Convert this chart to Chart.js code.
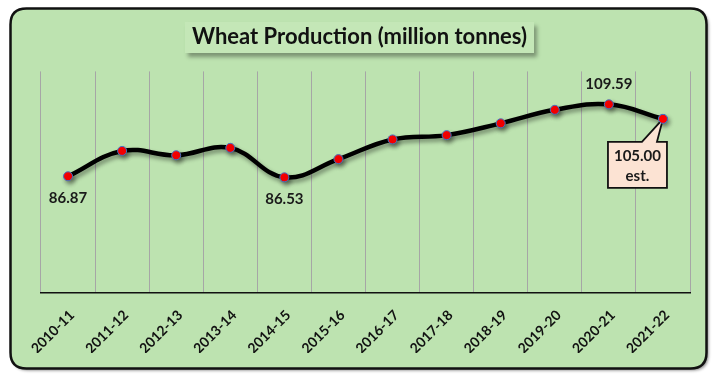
<!DOCTYPE html>
<html>
<head>
<meta charset="utf-8">
<script src="https://cdn.jsdelivr.net/npm/chart.js@4"></script>
<style>
html,body{margin:0;padding:0;background:#fff;}
#wrap{width:720px;height:378px;position:relative;}
</style>
</head>
<body>
<div id="wrap"><canvas id="c" width="720" height="378"></canvas></div>
<script>
const categories = ["2010-11","2011-12","2012-13","2013-14","2014-15","2015-16","2016-17","2017-18","2018-19","2019-20","2020-21","2021-22"];
const production = [86.87, 94.88, 93.51, 95.85, 86.53, 92.29, 98.51, 99.87, 103.60, 107.86, 109.59, 105.00];
const labelledIndexes = [0, 4, 10];
const calloutIndex = 11;
const calloutLines = ["105.00", "est."];
const chartTitle = "Wheat Production (million tonnes)";

const FONT = "Lato, 'Open Sans', sans-serif";

function roundRect(ctx, x, y, w, h, r) {
  ctx.beginPath();
  ctx.moveTo(x + r, y);
  ctx.lineTo(x + w - r, y);
  ctx.quadraticCurveTo(x + w, y, x + w, y + r);
  ctx.lineTo(x + w, y + h - r);
  ctx.quadraticCurveTo(x + w, y + h, x + w - r, y + h);
  ctx.lineTo(x + r, y + h);
  ctx.quadraticCurveTo(x, y + h, x, y + h - r);
  ctx.lineTo(x, y + r);
  ctx.quadraticCurveTo(x, y, x + r, y);
  ctx.closePath();
}

const framePlugin = {
  id: 'frame',
  beforeDraw(chart) {
    const ctx = chart.ctx;
    ctx.save();
    ctx.shadowColor = 'rgba(0,0,0,0.45)';
    ctx.shadowBlur = 3;
    ctx.shadowOffsetX = 2;
    ctx.shadowOffsetY = 2;
    roundRect(ctx, 10.5, 8.5, 696, 360, 16);
    ctx.fillStyle = '#bde3b0';
    ctx.fill();
    ctx.shadowColor = 'transparent';
    ctx.lineWidth = 2.5;
    ctx.strokeStyle = '#111';
    ctx.stroke();
    const t = chart.titleBlock;
    ctx.font = "bold 22px " + FONT;
    const tw = ctx.measureText(chartTitle).width;
    const cx = (t.left + t.right) / 2;
    const bx = cx - tw / 2 - 7;
    ctx.shadowColor = 'rgba(0,0,0,0.35)';
    ctx.shadowBlur = 4;
    ctx.shadowOffsetX = 3;
    ctx.shadowOffsetY = 4;
    ctx.fillStyle = '#c4e7b7';
    ctx.fillRect(bx, 22, tw + 14, 31);
    ctx.restore();
  }
};

const lineShadowPlugin = {
  id: 'lineShadow',
  beforeDatasetDraw(chart) {
    const ctx = chart.ctx;
    ctx.save();
    ctx.shadowColor = 'rgba(0,0,0,0.4)';
    ctx.shadowBlur = 4;
    ctx.shadowOffsetX = 2;
    ctx.shadowOffsetY = 3;
  },
  afterDatasetDraw(chart) {
    chart.ctx.restore();
  }
};

const labelsPlugin = {
  id: 'valueLabels',
  afterDatasetsDraw(chart) {
    const ctx = chart.ctx;
    const meta = chart.getDatasetMeta(0);
    ctx.save();
    ctx.font = "bold 15px " + FONT;
    ctx.fillStyle = '#1a1a1a';
    ctx.textAlign = 'center';
    ctx.textBaseline = 'middle';
    labelledIndexes.forEach(i => {
      const p = meta.data[i];
      const v = production[i].toFixed(2);
      const above = i === 10;
      ctx.fillText(v, p.x, above ? p.y - 20 : p.y + 22);
    });
    const p = meta.data[calloutIndex];
    const bx = p.x - 55, by = p.y + 23, bw = 59, bh = 46;
    ctx.beginPath();
    ctx.moveTo(bx, by);
    ctx.lineTo(p.x - 21, by);
    ctx.lineTo(p.x, p.y);
    ctx.lineTo(p.x - 6, by);
    ctx.lineTo(bx + bw, by);
    ctx.lineTo(bx + bw, by + bh);
    ctx.lineTo(bx, by + bh);
    ctx.closePath();
    ctx.fillStyle = '#fce3d3';
    ctx.fill();
    ctx.lineWidth = 1.8;
    ctx.strokeStyle = '#111';
    ctx.stroke();
    ctx.fillStyle = '#1a1a1a';
    ctx.fillText(calloutLines[0], bx + bw / 2, by + 14);
    ctx.fillText(calloutLines[1], bx + bw / 2, by + 34);
    ctx.beginPath();
    ctx.arc(p.x, p.y, 4.5, 0, Math.PI * 2);
    ctx.fillStyle = '#ff0000';
    ctx.fill();
    ctx.lineWidth = 1;
    ctx.strokeStyle = '#4472c4';
    ctx.stroke();
    ctx.restore();
  }
};

new Chart(document.getElementById('c'), {
  type: 'line',
  data: {
    labels: categories,
    datasets: [{
      data: production,
      borderColor: '#000',
      borderWidth: 4.5,
      tension: 0.4,
      pointRadius: 4.5,
      pointBackgroundColor: '#ff0000',
      pointBorderColor: '#4472c4',
      pointBorderWidth: 1,
      clip: false
    }]
  },
  options: {
    responsive: false,
    animation: false,
    layout: { padding: { left: 29, right: 30, top: 0, bottom: 25 } },
    plugins: {
      legend: { display: false },
      tooltip: { enabled: false },
      title: {
        display: true,
        text: chartTitle,
        color: '#111',
        font: { family: FONT, size: 22, weight: 'bold', lineHeight: 1.2 },
        padding: { top: 24, bottom: 21 }
      }
    },
    scales: {
      x: {
        offset: true,
        grid: { display: true, color: '#a6a6a6', lineWidth: 1, drawTicks: false, offset: true },
        border: { display: true, color: '#111', width: 1.5 },
        ticks: {
          color: '#111',
          font: { family: FONT, size: 14, weight: 'bold' },
          minRotation: 45, maxRotation: 45,
          padding: 14,
          labelOffset: 4,
          autoSkip: false
        },
        afterFit(s) { s.height = 60; }
      },
      y: {
        min: 50, max: 120,
        grid: { display: false },
        border: { display: false },
        ticks: { display: false },
        afterFit(s) { s.width = 12; }
      }
    }
  },
  plugins: [framePlugin, lineShadowPlugin, labelsPlugin]
});
</script>
</body>
</html>
